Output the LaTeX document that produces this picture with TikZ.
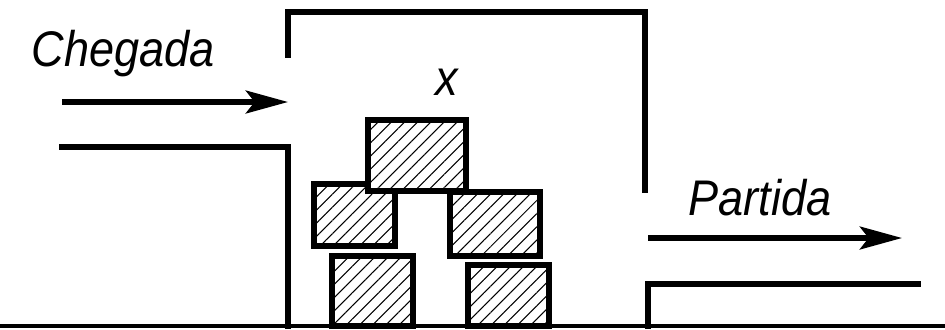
\documentclass[tikz,border=0pt]{standalone}
\usepackage{fontspec}
\setmainfont{Liberation Sans}
\usetikzlibrary{arrows.meta,patterns.meta}

\begin{document}
\begin{tikzpicture}[x=0.02cm, y=-0.02cm,
  wall/.style={line width=3pt, line cap=rect},
  flow/.style={line width=3pt, -{Stealth[length=24pt,width=13pt,inset=5pt]}},
  crate/.style={rectangle, draw, line width=3pt, fill=white, inner sep=0pt,
                postaction={pattern={Lines[angle=45,distance=5.3pt,line width=0.6pt]}}},
  lbl/.style={font=\fontsize{28.5}{32}\selectfont\itshape, anchor=base, inner sep=0pt},
]
\useasboundingbox (0,0) rectangle (945,329);

% chao
\draw[line width=2.5pt] (0,326) -- (945,326);

% recinto
\coordinate (w1) at (288,55);
\coordinate (w2) at (288,12);
\coordinate (w3) at (645,12);
\coordinate (w4) at (645,190);
\draw[wall] (w1) -- (w2) -- (w3) -- (w4);

\coordinate (l1) at (62,147);
\coordinate (l2) at (288,147);
\coordinate (l3) at (288,326);
\draw[wall] (l1) -- (l2) -- (l3);

\coordinate (r1) at (648,326);
\coordinate (r2) at (648,284);
\coordinate (r3) at (918,284);
\draw[wall] (r1) -- (r2) -- (r3);

% fluxos
\coordinate (in0) at (62,102);
\coordinate (in1) at (288,102);
\draw[flow] (in0) -- (in1);
\coordinate (out0) at (648,238);
\coordinate (out1) at (902,238);
\draw[flow] (out0) -- (out1);

% caixas
\node[crate, minimum width=1.62cm, minimum height=1.40cm] (b4) at (372.5,291) {};
\node[crate, minimum width=1.62cm, minimum height=1.22cm] (b5) at (508.5,295.5) {};
\node[crate, minimum width=1.62cm, minimum height=1.24cm] (b2) at (354.5,215) {};
\node[crate, minimum width=1.80cm, minimum height=1.28cm] (b3) at (495,224) {};
\node[crate, minimum width=1.96cm, minimum height=1.42cm] (b1) at (417,155.5) {};

\node[lbl] (cheg) at (123,66) {\scalebox{0.9}[1]{Chegada}};
\node[lbl] (xq) at (447,95) {\scalebox{0.9}[1]{x}};
\node[lbl] (part) at (760,215) {\scalebox{0.9}[1]{Partida}};
\end{tikzpicture}
\end{document}
